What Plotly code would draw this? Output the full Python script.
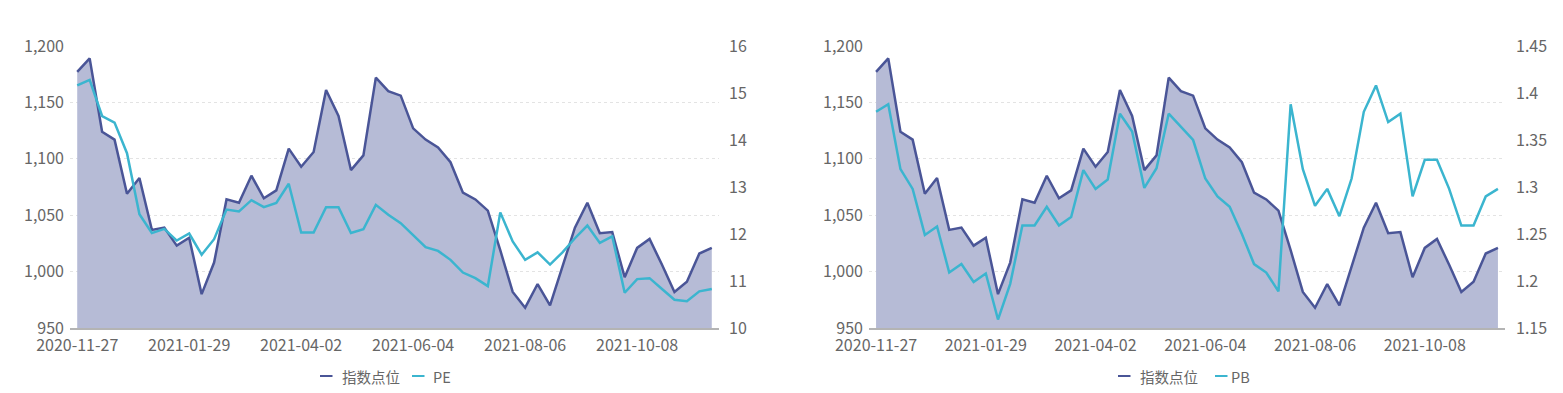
import plotly.graph_objects as go
from plotly.subplots import make_subplots

dates = [
    "2020-11-27", "2020-12-04", "2020-12-11", "2020-12-18", "2020-12-25",
    "2021-01-01", "2021-01-08", "2021-01-15", "2021-01-22", "2021-01-29",
    "2021-02-05", "2021-02-12", "2021-02-19", "2021-02-26", "2021-03-05",
    "2021-03-12", "2021-03-19", "2021-03-26", "2021-04-02", "2021-04-09",
    "2021-04-16", "2021-04-23", "2021-04-30", "2021-05-07", "2021-05-14",
    "2021-05-21", "2021-05-28", "2021-06-04", "2021-06-11", "2021-06-18",
    "2021-06-25", "2021-07-02", "2021-07-09", "2021-07-16", "2021-07-23",
    "2021-07-30", "2021-08-06", "2021-08-13", "2021-08-20", "2021-08-27",
    "2021-09-03", "2021-09-10", "2021-09-17", "2021-09-24", "2021-10-01",
    "2021-10-08", "2021-10-15", "2021-10-22", "2021-10-29", "2021-11-05",
    "2021-11-12", "2021-11-19",
]

index_points = [
    1177, 1189, 1124, 1117, 1069, 1083, 1037, 1039, 1023, 1030,
    980, 1008, 1064, 1061, 1085, 1065, 1072, 1109, 1093, 1106,
    1161, 1138, 1090, 1103, 1172, 1160, 1156, 1127, 1117, 1110,
    1097, 1070, 1064, 1054, 1019, 982, 968, 989, 970, 1004,
    1039, 1061, 1034, 1035, 995, 1021, 1029, 1006, 982, 991,
    1016, 1021,
]

pe_values = [
    15.16, 15.28, 14.51, 14.37, 13.72, 12.42, 12.02, 12.11, 11.86, 12.01,
    11.56, 11.89, 12.52, 12.48, 12.72, 12.57, 12.66, 13.07, 12.03, 12.03,
    12.57, 12.57, 12.02, 12.10, 12.62, 12.41, 12.23, 11.97, 11.72, 11.64,
    11.45, 11.18, 11.06, 10.89, 12.46, 11.84, 11.45, 11.61, 11.35, 11.61,
    11.91, 12.18, 11.81, 11.95, 10.75, 11.04, 11.06, 10.83, 10.60, 10.57,
    10.78, 10.83,
]

pb_values = [
    1.380, 1.388, 1.319, 1.298, 1.249, 1.258, 1.209, 1.218, 1.199, 1.208,
    1.159, 1.197, 1.259, 1.259, 1.279, 1.259, 1.268, 1.318, 1.298, 1.308,
    1.378, 1.359, 1.299, 1.320, 1.378, 1.364, 1.350, 1.309, 1.290, 1.279,
    1.250, 1.218, 1.209, 1.189, 1.388, 1.319, 1.280, 1.298, 1.269, 1.309,
    1.380, 1.408, 1.369, 1.378, 1.290, 1.329, 1.329, 1.298, 1.259, 1.259,
    1.290, 1.298,
]

x_tick_labels = ["2020-11-27", "2021-01-29", "2021-04-02", "2021-06-04", "2021-08-06", "2021-10-08"]
left_ticks = [950, 1000, 1050, 1100, 1150, 1200]
pe_ticks = [10, 11, 12, 13, 14, 15, 16]
pb_ticks = [1.15, 1.2, 1.25, 1.3, 1.35, 1.4, 1.45]
pb_tick_text = ["1.15", "1.2", "1.25", "1.3", "1.35", "1.4", "1.45"]

INDEX_COLOR = "#4a5597"
FILL_COLOR = "rgba(182,187,214,1)"
CYAN = "#3bb5cf"
TEXT = "#666666"
FONT = "Noto Sans CJK SC"
TICK_FONT = dict(size=16, color=TEXT, family=FONT)

W, H = 1563, 393
OX, OY = 8, 8  # page body margin offset


def px(x):
    return (x - OX) / W


def py(y):
    return (H - (y - OY)) / H


fig = make_subplots(rows=1, cols=2, specs=[[{"secondary_y": True}, {"secondary_y": True}]])

fig.add_trace(go.Scatter(x=dates, y=index_points, name="指数点位", mode="lines",
                         line=dict(color=INDEX_COLOR, width=2.5), fill="tozeroy",
                         fillcolor=FILL_COLOR, showlegend=False), row=1, col=1, secondary_y=False)
fig.add_trace(go.Scatter(x=dates, y=pe_values, name="PE", mode="lines",
                         line=dict(color=CYAN, width=2.5), showlegend=False),
              row=1, col=1, secondary_y=True)
fig.add_trace(go.Scatter(x=dates, y=index_points, name="指数点位", mode="lines",
                         line=dict(color=INDEX_COLOR, width=2.5), fill="tozeroy",
                         fillcolor=FILL_COLOR, showlegend=False), row=1, col=2, secondary_y=False)
fig.add_trace(go.Scatter(x=dates, y=pb_values, name="PB", mode="lines",
                         line=dict(color=CYAN, width=2.5), showlegend=False),
              row=1, col=2, secondary_y=True)

xcommon = dict(type="category", range=[-0.58, 51.58], tickmode="array", tickvals=x_tick_labels,
               ticktext=x_tick_labels, showgrid=False, showline=True, linecolor="#b4b4b4",
               linewidth=2, ticks="", tickfont=TICK_FONT, automargin=False,
               zeroline=False, ticklabelstandoff=2)

fig.update_layout(
    xaxis=dict(domain=[px(70), px(719)], **xcommon),
    xaxis2=dict(domain=[px(869), px(1505)], **xcommon),
)

ycommon = dict(showgrid=True, gridcolor="#e3e3e3", griddash="dot", gridwidth=1,
               zeroline=False, showline=False, ticks="", automargin=False,
               tickfont=TICK_FONT, domain=[py(328), py(46)], ticklabelstandoff=5)
y2common = dict(showgrid=False, zeroline=False, showline=False, ticks="", automargin=False,
                tickfont=TICK_FONT, side="right")

fig.update_layout(
    yaxis=dict(range=[950, 1200], tickmode="array", tickvals=left_ticks,
               ticktext=[f"{v:,}" for v in left_ticks], **ycommon),
    yaxis2=dict(range=[10, 16], tickmode="array", tickvals=pe_ticks,
                ticktext=[str(v) for v in pe_ticks], overlaying="y", anchor="x",
                ticklabelstandoff=9, **y2common),
    yaxis3=dict(range=[950, 1200], tickmode="array", tickvals=left_ticks,
                ticktext=[f"{v:,}" for v in left_ticks], **ycommon),
    yaxis4=dict(range=[1.15, 1.45], tickmode="array", tickvals=pb_ticks,
                ticktext=pb_tick_text, overlaying="y3", anchor="x2",
                ticklabelstandoff=10, **y2common),
)

# custom legends (short line icons + labels), matching the reference layout
legend_items = [
    (320, 340, INDEX_COLOR, "指数点位"),
    (412, 431, CYAN, "PE"),
    (1118, 1138, INDEX_COLOR, "指数点位"),
    (1215, 1229, CYAN, "PB"),
]
ly = py(376)
for x_icon, x_text, color, label in legend_items:
    fig.add_shape(type="line", xref="paper", yref="paper", x0=px(x_icon), x1=px(x_icon + 12.5),
                  y0=ly, y1=ly, line=dict(color=color, width=2))
    fig.add_annotation(xref="paper", yref="paper", x=px(x_text), y=ly, xanchor="left",
                       yanchor="middle", text=label, showarrow=False,
                       font=dict(size=14.5, color=TEXT, family=FONT))

fig.update_layout(
    width=W, height=H, margin=dict(l=0, r=0, t=0, b=0, autoexpand=False),
    paper_bgcolor="white", plot_bgcolor="white", showlegend=False,
    font=dict(family=FONT, color=TEXT),
)

fig.write_html("out.html")
